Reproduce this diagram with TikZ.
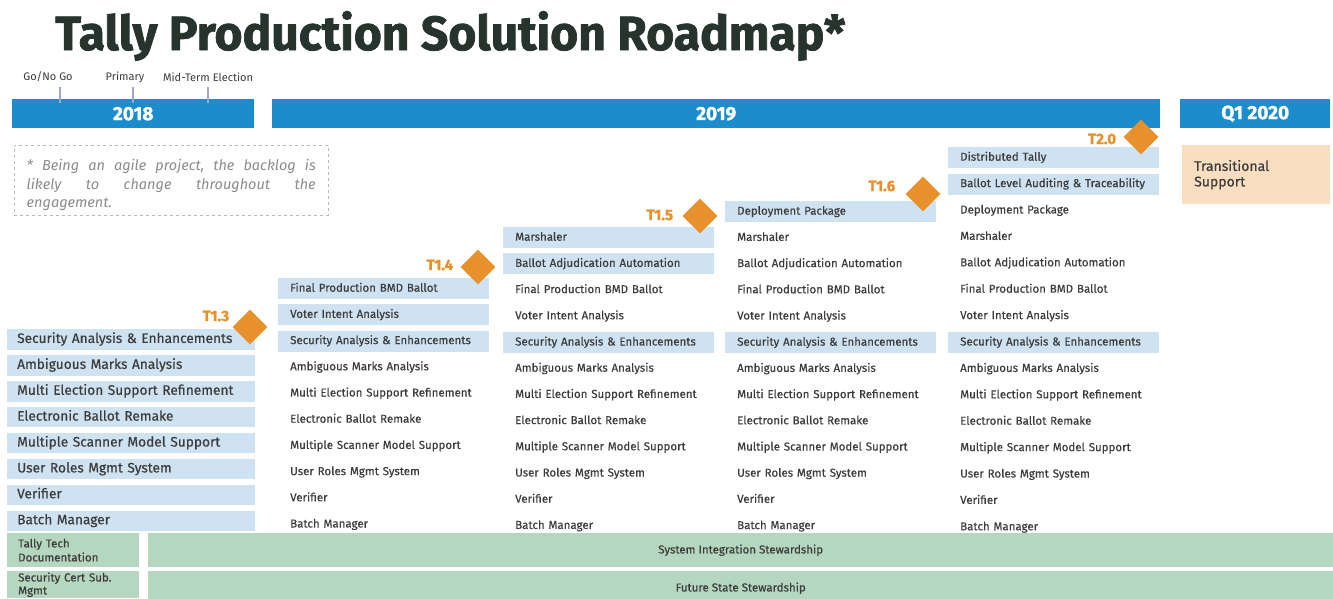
\documentclass[tikz,border=0pt]{standalone}
\usepackage{fontspec}
\setmainfont{Fira Sans}
\newfontfamily\heavyfam{Fira Sans}[BoldFeatures={FakeBold=1.5}]
\newfontfamily\medfam{Fira Sans}[FakeBold=0.5]
\usetikzlibrary{positioning,shapes.geometric}

\definecolor{barblue}{HTML}{1B8DCD}
\definecolor{rowblue}{HTML}{CFE2F1}
\definecolor{ink}{HTML}{3C3C3C}
\definecolor{msorange}{HTML}{E8912C}
\definecolor{stewgreen}{HTML}{B6D7BF}
\definecolor{tanbox}{HTML}{F9DEBF}
\definecolor{notegray}{HTML}{8C8C8C}
\definecolor{tickgray}{HTML}{A3A6CC}
\definecolor{titleink}{HTML}{27332D}

\newcommand\rowfont{\medfam\fontsize{11.5}{13}\selectfont}
\newcommand\bigrowfont{\medfam\fontsize{13.7}{15}\selectfont}

\begin{document}
\begin{tikzpicture}[x=1pt,y=-1pt,node distance=4.8pt]
		\tikzstyle{yearbar}=[fill=barblue,text=white,font=\heavyfam\fontsize{19}{21}\selectfont\bfseries,minimum height=29pt,inner sep=0pt,anchor=north west]
		\tikzstyle{event}=[font=\fontsize{11}{13}\selectfont,text=ink,inner sep=0pt]
		\tikzstyle{tick}=[draw=tickgray,line width=2.5pt]
		\tikzstyle{bigrow}=[fill=rowblue,text width=228pt,inner xsep=10pt,inner ysep=0pt,minimum height=20.5pt,text height=10pt,text depth=3pt,align=left,font=\bigrowfont,text=ink]
		\tikzstyle{row}=[text width=187pt,inner xsep=12pt,inner ysep=0pt,minimum height=21pt,text height=8.5pt,text depth=2.5pt,align=left,font=\rowfont,text=ink]
		\tikzstyle{hl}=[row,fill=rowblue]
		\tikzstyle{gate}=[diamond,fill=msorange,minimum width=35pt,minimum height=35pt,inner sep=0pt]
		\tikzstyle{gatelabel}=[font=\heavyfam\fontsize{15}{17}\selectfont\bfseries,text=msorange,inner sep=0pt]
		\tikzstyle{stew}=[fill=stewgreen,minimum height=34pt,inner ysep=0pt,font=\medfam\fontsize{11.5}{14}\selectfont,text=ink,anchor=north west]
		\useasboundingbox (0,0) rectangle (1333,598);

		% title
		\node[anchor=base west,inner sep=0pt,font=\heavyfam\fontsize{48}{52}\selectfont\bfseries,text=titleink] (title) at (55,50) {Tally Production Solution Roadmap*};

		% year bars and events
		\node[yearbar,minimum width=242pt] (y2018) at (12,99) {2018};
		\node[yearbar,minimum width=888pt] (y2019) at (272,99) {2019};
		\node[yearbar,minimum width=150pt] (y2020) at (1180,99) {Q1 2020};
		\node[event] (gonogo) at (48,77) {Go/No Go};
		\node[event] (primary) at (125,77) {Primary};
		\node[event] (midterm) at (208,77) {Mid-Term Election};
		\draw[tick] (60,87) -- (60,103);
		\draw[tick] (133,87) -- (133,103);
		\draw[tick] (208,87) -- (208,103);

		% note
		\node[draw=notegray!60,dashed,anchor=north west,minimum width=314pt,minimum height=70pt] (note) at (14,145) {};
		\node[text width=289pt,inner sep=0pt,align=left,font=\fontsize{14.5}{18.5}\selectfont\itshape,text=notegray] (notetxt) at ([yshift=-5pt]note.center)
			{\makebox[289pt]{*\hfill Being\hfill an\hfill agile\hfill project,\hfill the\hfill backlog\hfill is}\\
			 \makebox[289pt]{likely\hfill to\hfill change\hfill throughout\hfill the}\\engagement.};

		% T1.3
		\node[bigrow,anchor=north west] (a1) at (7,329) {Security Analysis \& Enhancements};
		\node[bigrow,below=5pt of a1] (a2) {Ambiguous Marks Analysis};
		\node[bigrow,below=5pt of a2] (a3) {Multi Election Support Refinement};
		\node[bigrow,below=5pt of a3] (a4) {Electronic Ballot Remake};
		\node[bigrow,below=5pt of a4] (a5) {Multiple Scanner Model Support};
		\node[bigrow,below=5pt of a5] (a6) {User Roles Mgmt System};
		\node[bigrow,below=5pt of a6] (a7) {Verifier};
		\node[bigrow,below=5pt of a7] (a8) {Batch Manager};

		% T1.4
		\node[hl,anchor=north west] (b1) at (278,278) {Final Production BMD Ballot};
		\node[hl,below=of b1] (b2) {Voter Intent Analysis};
		\node[hl,below=of b2] (b3) {Security Analysis \& Enhancements};
		\node[row,below=of b3] (b4) {Ambiguous Marks Analysis};
		\node[row,below=of b4] (b5) {Multi Election Support Refinement};
		\node[row,below=of b5] (b6) {Electronic Ballot Remake};
		\node[row,below=of b6] (b7) {Multiple Scanner Model Support};
		\node[row,below=of b7] (b8) {User Roles Mgmt System};
		\node[row,below=of b8] (b9) {Verifier};
		\node[row,below=of b9] (b10) {Batch Manager};

		% T1.5
		\node[hl,anchor=north west] (c1) at (503,227) {Marshaler};
		\node[hl,below=of c1] (c2) {Ballot Adjudication Automation};
		\node[row,below=of c2] (c3) {Final Production BMD Ballot};
		\node[row,below=of c3] (c4) {Voter Intent Analysis};
		\node[hl,below=of c4] (c5) {Security Analysis \& Enhancements};
		\node[row,below=of c5] (c6) {Ambiguous Marks Analysis};
		\node[row,below=of c6] (c7) {Multi Election Support Refinement};
		\node[row,below=of c7] (c8) {Electronic Ballot Remake};
		\node[row,below=of c8] (c9) {Multiple Scanner Model Support};
		\node[row,below=of c9] (c10) {User Roles Mgmt System};
		\node[row,below=of c10] (c11) {Verifier};
		\node[row,below=of c11] (c12) {Batch Manager};

		% T1.6
		\node[hl,anchor=north west] (d1) at (725,201) {Deployment Package};
		\node[row,below=of d1] (d2) {Marshaler};
		\node[row,below=of d2] (d3) {Ballot Adjudication Automation};
		\node[row,below=of d3] (d4) {Final Production BMD Ballot};
		\node[row,below=of d4] (d5) {Voter Intent Analysis};
		\node[hl,below=of d5] (d6) {Security Analysis \& Enhancements};
		\node[row,below=of d6] (d7) {Ambiguous Marks Analysis};
		\node[row,below=of d7] (d8) {Multi Election Support Refinement};
		\node[row,below=of d8] (d9) {Electronic Ballot Remake};
		\node[row,below=of d9] (d10) {Multiple Scanner Model Support};
		\node[row,below=of d10] (d11) {User Roles Mgmt System};
		\node[row,below=of d11] (d12) {Verifier};
		\node[row,below=of d12] (d13) {Batch Manager};

		% T2.0
		\node[hl,anchor=north west] (e1) at (948,147) {Distributed Tally};
		\node[hl,below=5pt of e1] (e2) {Ballot Level Auditing \& Traceability};
		\node[row,below=5pt of e2] (e3) {Deployment Package};
		\node[row,below=5pt of e3] (e4) {Marshaler};
		\node[row,below=5pt of e4] (e5) {Ballot Adjudication Automation};
		\node[row,below=5pt of e5] (e6) {Final Production BMD Ballot};
		\node[row,below=5pt of e6] (e7) {Voter Intent Analysis};
		\node[hl,below=5pt of e7] (e8) {Security Analysis \& Enhancements};
		\node[row,below=5pt of e8] (e9) {Ambiguous Marks Analysis};
		\node[row,below=5pt of e9] (e10) {Multi Election Support Refinement};
		\node[row,below=5pt of e10] (e11) {Electronic Ballot Remake};
		\node[row,below=5pt of e11] (e12) {Multiple Scanner Model Support};
		\node[row,below=5pt of e12] (e13) {User Roles Mgmt System};
		\node[row,below=5pt of e13] (e14) {Verifier};
		\node[row,below=5pt of e14] (e15) {Batch Manager};

		% Q1 2020
		\node[fill=tanbox,anchor=north west,text width=124pt,inner xsep=12pt,minimum height=59pt,align=left,
			font=\medfam\fontsize{14}{15.5}\selectfont,text=ink] (trans) at (1182,145) {Transitional\\Support};

		% gates
		\node[gate] (t13) at (250,327) {};
		\node[gatelabel,left=3pt of t13.west,yshift=11pt] (t13l) {T1.3};
		\node[gate] (t14) at (478,267) {};
		\node[gatelabel,left=7pt of t14.west,yshift=2pt] (t14l) {T1.4};
		\node[gate] (t15) at (700,216) {};
		\node[gatelabel,left=9pt of t15.west,yshift=1pt] (t15l) {T1.5};
		\node[gate] (t16) at (923,194) {};
		\node[gatelabel,left=10pt of t16.west,yshift=8pt] (t16l) {T1.6};
		\node[gate] (t20) at (1141,137) {};
		\node[gatelabel,left=7pt of t20.west,yshift=-2pt] (t20l) {T2.0};

		% stewardship
		\node[stew,text width=110pt,inner xsep=11pt,align=left] (doc) at (7,533) {Tally Tech\\Documentation};
		\node[stew,minimum width=1185pt] (sis) at (148,533) {System Integration Stewardship};
		\node[stew,text width=110pt,inner xsep=11pt,align=left,minimum height=27pt,font=\medfam\fontsize{11.5}{13}\selectfont] (cert) at (7,571) {Security Cert Sub.\\Mgmt};
		\node[stew,minimum width=1185pt] (fss) at (148,571) {Future State Stewardship};
	\end{tikzpicture}
\end{document}
